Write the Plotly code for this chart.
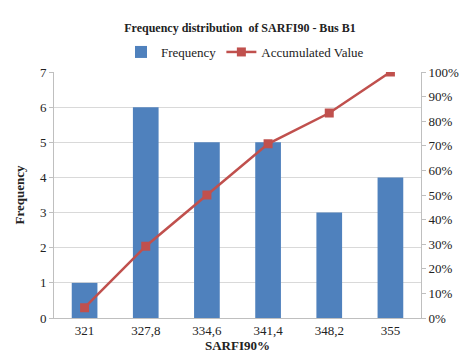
import plotly.graph_objects as go

categories = ["321", "327,8", "334,6", "341,4", "348,2", "355"]
frequency = [1, 6, 5, 5, 3, 4]
accumulated = [0.0417, 0.2917, 0.50, 0.7083, 0.8333, 1.0]

FONT = "Liberation Serif"
W, H = 471, 363
OFF = 8  # page body margin in the browser

fig = go.Figure()
fig.add_trace(go.Bar(x=categories, y=frequency, name="Frequency",
                     marker=dict(color="#4F81BD", line=dict(width=0))))
fig.add_trace(go.Scatter(x=categories, y=accumulated, name="Accumulated Value",
                         yaxis="y2", mode="lines+markers",
                         line=dict(color="#C0504D", width=2.5),
                         marker=dict(symbol="square", size=9, color="#C0504D")))
tf = dict(family=FONT, size=13, color="#222")
fig.update_layout(
    width=W, height=H,
    margin=dict(l=54 - OFF, r=W - (421 - OFF), t=72 - OFF, b=H - (318 - OFF), autoexpand=False),
    paper_bgcolor="white", plot_bgcolor="white",
    font=dict(family=FONT, size=13, color="#222"),
    title=dict(text="<b>Frequency distribution  of SARFI90 - Bus B1</b>",
               x=(240 - OFF) / W, xanchor="center", y=1 - (28 - OFF) / H, yanchor="middle",
               font=dict(size=12, family=FONT, color="#222")),
    bargap=0.58,
    showlegend=True,
    legend=dict(orientation="h", x=(245 - OFF) / W, xref="container", xanchor="center",
                y=1 - (52 - OFF) / H, yref="container", yanchor="middle",
                font=dict(size=13, family=FONT, color="#222"), bgcolor="rgba(0,0,0,0)"),
    xaxis=dict(type="category", showline=True, linecolor="#BFBFBF", linewidth=1,
               ticks="", tickfont=tf,
               title=dict(text="<b>SARFI90%</b>", font=dict(size=13, family=FONT, color="#222"), standoff=2)),
    yaxis=dict(range=[0, 7], dtick=1, showgrid=True, gridcolor="#D9D9D9",
               showline=True, linecolor="#BFBFBF", ticks="outside", ticklen=4,
               tickcolor="#BFBFBF", zeroline=False, tickfont=tf,
               title=dict(text="<b>Frequency</b>", font=dict(size=13, family=FONT, color="#222"), standoff=12)),
    yaxis2=dict(range=[0, 1], dtick=0.1, tickformat=".0%", overlaying="y", side="right",
                showgrid=False, showline=True, linecolor="#BFBFBF", ticks="outside",
                ticklen=4, tickcolor="#BFBFBF", zeroline=False, tickfont=tf),
)
fig.write_html("out.html")
